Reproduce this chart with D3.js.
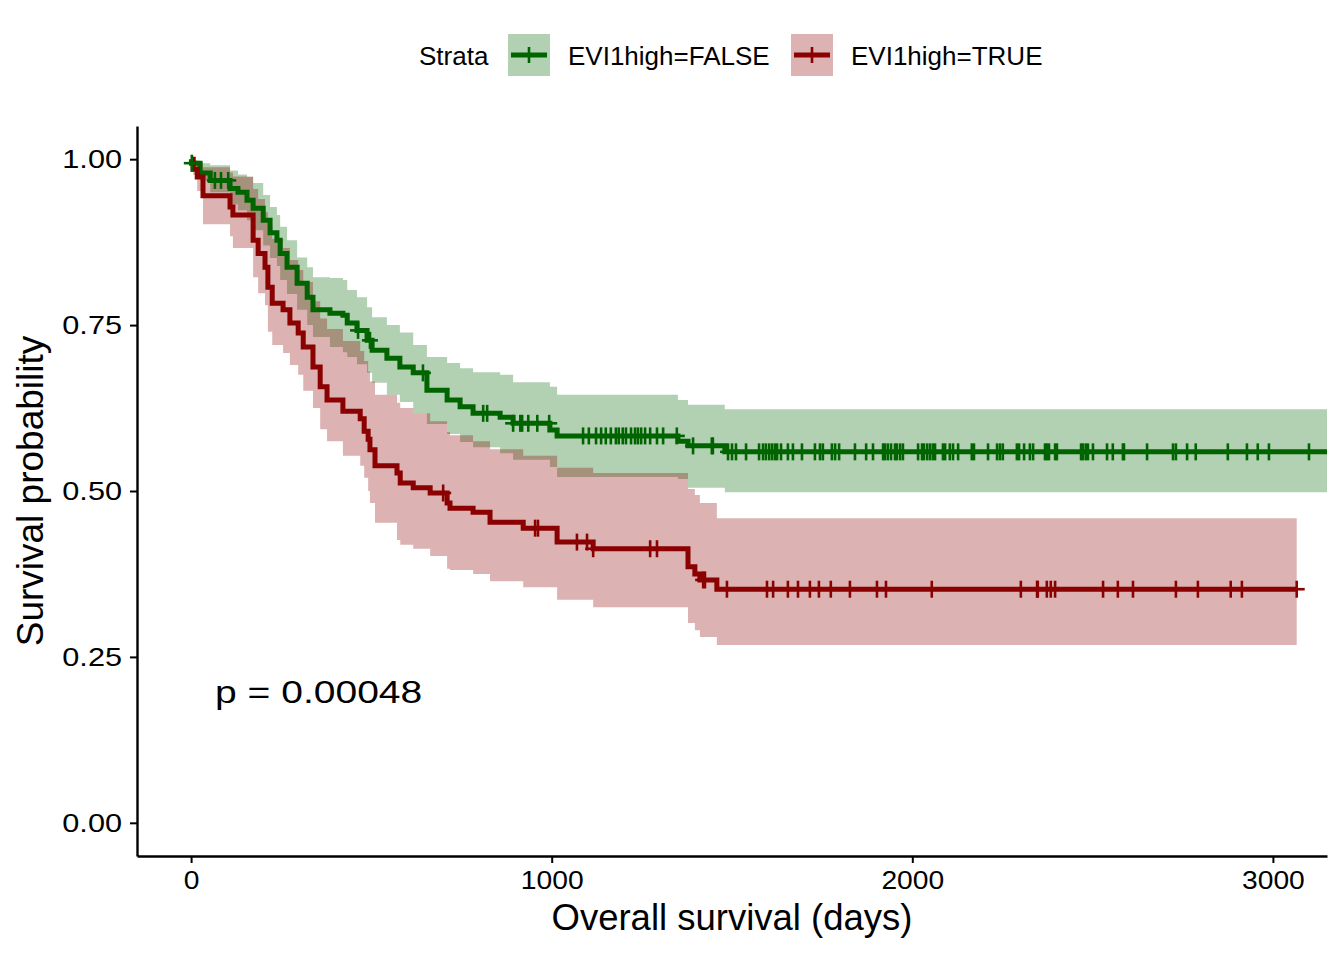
<!DOCTYPE html>
<html>
<head>
<meta charset="utf-8">
<script src="https://cdn.jsdelivr.net/npm/d3@7"></script>
<style>
  body { margin: 0; background: #fff; }
  text { font-family: "Liberation Sans", Arial, Helvetica, sans-serif; fill: #000; }
</style>
</head>
<body>
<div class="canvas"></div>
<script>
// strata and colours
const strata = ['EVI1high=FALSE', 'EVI1high=TRUE'];
const strataColors = ['#006400', '#8B0000'];

// EVI1high=FALSE : KM steps (days, survival, CI)
const falseTime  = [0, 1, 25, 53, 108, 130, 155, 172, 200, 219, 238, 247, 266, 294, 322, 338, 385, 421, 433, 460, 488, 502, 543, 579, 616, 654, 710, 746, 782, 857, 893, 995, 1015, 1350, 1378, 1480, 3200];
const falseSurv  = [1, 0.994, 0.979, 0.968, 0.956, 0.950, 0.938, 0.926, 0.908, 0.889, 0.878, 0.858, 0.837, 0.813, 0.792, 0.773, 0.768, 0.765, 0.753, 0.742, 0.727, 0.712, 0.700, 0.687, 0.678, 0.652, 0.637, 0.627, 0.617, 0.611, 0.602, 0.592, 0.583, 0.575, 0.568, 0.559, 0.559];
const falseUpper = [1, 0.998, 0.994, 0.991, 0.983, 0.977, 0.973, 0.964, 0.946, 0.928, 0.916, 0.898, 0.878, 0.852, 0.837, 0.822, 0.821, 0.818, 0.803, 0.792, 0.777, 0.762, 0.750, 0.739, 0.720, 0.702, 0.693, 0.685, 0.679, 0.675, 0.664, 0.657, 0.645, 0.637, 0.630, 0.623, 0.623];
const falseLower = [1, 0.989, 0.968, 0.950, 0.932, 0.923, 0.908, 0.893, 0.870, 0.851, 0.839, 0.818, 0.797, 0.773, 0.750, 0.732, 0.717, 0.709, 0.702, 0.691, 0.678, 0.663, 0.645, 0.634, 0.617, 0.601, 0.586, 0.574, 0.566, 0.557, 0.547, 0.536, 0.521, 0.518, 0.505, 0.498, 0.498];
const falseCensor = [2, 66, 83, 103, 463, 496, 643, 810, 821, 893, 913, 918, 935, 960, 993, 1087, 1103, 1123, 1137, 1150, 1164, 1178, 1186, 1197, 1206, 1220, 1231, 1239, 1248, 1259, 1273, 1292, 1309, 1347, 1392, 1444, 1447, 1489, 1500, 1511, 1539, 1575, 1586, 1594, 1603, 1611, 1619, 1625, 1636, 1655, 1669, 1694, 1730, 1744, 1752, 1777, 1786, 1797, 1841, 1872, 1891, 1919, 1924, 1932, 1941, 1952, 1957, 1966, 1974, 2016, 2027, 2032, 2041, 2049, 2057, 2063, 2085, 2091, 2104, 2113, 2127, 2165, 2171, 2210, 2235, 2243, 2251, 2290, 2296, 2310, 2326, 2335, 2368, 2373, 2379, 2396, 2401, 2468, 2473, 2481, 2487, 2501, 2540, 2556, 2584, 2587, 2651, 2723, 2731, 2762, 2786, 2875, 2928, 2958, 2989, 3100];

// EVI1high=TRUE
const trueTime  = [0, 6, 17, 33, 108, 116, 172, 186, 205, 213, 225, 255, 274, 297, 311, 338, 358, 377, 421, 469, 480, 491, 496, 510, 571, 580, 616, 663, 710, 718, 782, 829, 921, 1015, 1115, 1378, 1397, 1411, 1458, 3066];
const trueSurv  = [1, 0.985, 0.973, 0.945, 0.928, 0.916, 0.878, 0.858, 0.837, 0.807, 0.783, 0.773, 0.753, 0.738, 0.717, 0.687, 0.657, 0.637, 0.620, 0.609, 0.590, 0.578, 0.562, 0.538, 0.527, 0.512, 0.505, 0.497, 0.482, 0.474, 0.468, 0.453, 0.444, 0.423, 0.413, 0.386, 0.375, 0.366, 0.352, 0.352];
const trueUpper = [1, 0.998, 0.995, 0.988, 0.980, 0.974, 0.955, 0.940, 0.920, 0.900, 0.880, 0.866, 0.848, 0.833, 0.815, 0.786, 0.760, 0.744, 0.726, 0.711, 0.696, 0.680, 0.665, 0.645, 0.633, 0.625, 0.617, 0.605, 0.589, 0.584, 0.575, 0.563, 0.553, 0.535, 0.527, 0.503, 0.494, 0.482, 0.459, 0.459];
const trueLower = [1, 0.976, 0.952, 0.902, 0.884, 0.866, 0.822, 0.798, 0.780, 0.740, 0.720, 0.708, 0.690, 0.675, 0.651, 0.625, 0.593, 0.575, 0.553, 0.538, 0.520, 0.500, 0.482, 0.452, 0.426, 0.419, 0.413, 0.402, 0.383, 0.381, 0.375, 0.364, 0.355, 0.336, 0.325, 0.301, 0.290, 0.280, 0.268, 0.268];
const trueCensor = [699, 954, 962, 1070, 1098, 1115, 1273, 1292, 1420, 1425, 1486, 1597, 1614, 1655, 1683, 1716, 1741, 1774, 1827, 1902, 1927, 2054, 2301, 2346, 2348, 2373, 2384, 2396, 2529, 2570, 2612, 2731, 2792, 2883, 2914, 3066];

const xTicks = [0, 1000, 2000, 3000];
const yTicks = [0, 0.25, 0.5, 0.75, 1];
const pValueLabel = 'p = 0.00048';

// build one table per stratum
const groups = [
  { name: strata[0], color: strataColors[0], time: falseTime, surv: falseSurv, upper: falseUpper, lower: falseLower, censor: falseCensor },
  { name: strata[1], color: strataColors[1], time: trueTime, surv: trueSurv, upper: trueUpper, lower: trueLower, censor: trueCensor }
];
groups.forEach(g => {
  g.steps = g.time.map((t, i) => ({ t: t, s: g.surv[i], hi: g.upper[i], lo: g.lower[i] }));
});

const svg = d3.select('.canvas').append('svg')
    .attr('width', 1344)
    .attr('height', 960);

const plotLeft = 137, plotRight = 1327, plotTop = 126, plotBottom = 856;

const x = d3.scaleLinear().domain([-150, 3150]).range([plotLeft, plotRight]);
const y = d3.scaleLinear().domain([-0.05, 1.05]).range([plotBottom, plotTop]);

svg.append('defs').append('clipPath').attr('id', 'plotclip')
  .append('rect')
    .attr('x', plotLeft).attr('y', plotTop)
    .attr('width', plotRight - plotLeft).attr('height', plotBottom - plotTop);

const plot = svg.append('g').attr('clip-path', 'url(#plotclip)');

const band = d3.area()
    .curve(d3.curveStepAfter)
    .x(d => x(d.t))
    .y0(d => y(d.lo))
    .y1(d => y(d.hi));

const step = d3.line()
    .curve(d3.curveStepAfter)
    .x(d => x(d.t))
    .y(d => y(d.s));

// confidence bands
groups.forEach(g => {
  plot.append('path')
    .attr('d', band(g.steps))
    .attr('fill', g.color)
    .attr('fill-opacity', 0.3);
});

// survival curves
groups.forEach(g => {
  plot.append('path')
    .attr('d', step(g.steps))
    .attr('fill', 'none')
    .attr('stroke', g.color)
    .attr('stroke-width', 5);
});

// censor marks
const bis = d3.bisector(d => d.t).right;
groups.forEach(g => {
  const marks = plot.append('g');
  g.censor.forEach(c => {
    const i = Math.max(0, bis(g.steps, c) - 1);
    const cx = x(c), cy = y(g.steps[i].s);
    marks.append('line')
      .attr('x1', cx).attr('x2', cx)
      .attr('y1', cy - 8.5).attr('y2', cy + 8.5)
      .attr('stroke', g.color).attr('stroke-width', 2.6);
    marks.append('line')
      .attr('x1', cx - 8).attr('x2', cx + 8)
      .attr('y1', cy).attr('y2', cy)
      .attr('stroke', g.color).attr('stroke-width', 2.6);
  });
});

// axes
const yAxis = svg.append('g')
    .attr('transform', `translate(${plotLeft},0)`)
    .call(d3.axisLeft(y).tickValues(yTicks).tickFormat(d3.format('.2f')).tickSize(7).tickSizeOuter(0));
yAxis.select('.domain').attr('stroke-width', 2.4);
yAxis.selectAll('.tick line').attr('stroke-width', 2);
yAxis.selectAll('.tick text')
    .attr('font-size', 26)
    .attr('fill', '#000')
    .attr('x', -15 / 1.18)
    .attr('transform', 'scale(1.18,1)')
    .style('font-family', '"Liberation Sans", Arial, sans-serif');

const xAxis = svg.append('g')
    .attr('transform', `translate(0,${plotBottom})`)
    .call(d3.axisBottom(x).tickValues(xTicks).tickFormat(d3.format('d')).tickSize(7).tickSizeOuter(0));
xAxis.select('.domain').attr('stroke-width', 2.4);
xAxis.selectAll('.tick line').attr('stroke-width', 2);
xAxis.selectAll('.tick text')
    .attr('font-size', 25)
    .attr('fill', '#000')
    .attr('x', 0)
    .attr('y', 15)
    .attr('transform', 'scale(1.13,1)')
    .style('font-family', '"Liberation Sans", Arial, sans-serif');

// axis titles
svg.append('text')
    .attr('x', (plotLeft + plotRight) / 2)
    .attr('y', 930)
    .attr('text-anchor', 'middle')
    .attr('font-size', 36.5)
    .text('Overall survival (days)');

svg.append('text')
    .attr('transform', `translate(43,${(plotTop + plotBottom) / 2}) rotate(-90)`)
    .attr('text-anchor', 'middle')
    .attr('font-size', 37)
    .text('Survival probability');

// p-value
svg.append('text')
    .attr('transform', 'translate(215,703) scale(1.22,1)')
    .attr('font-size', 32)
    .text(pValueLabel);

// legend
const legend = svg.append('g');
legend.append('text')
    .attr('x', 419).attr('y', 65)
    .attr('font-size', 26)
    .text('Strata');

const keyX = [508, 791];
groups.forEach((g, i) => {
  const k = legend.append('g').attr('transform', `translate(${keyX[i]},34)`);
  k.append('rect')
    .attr('width', 42).attr('height', 42)
    .attr('fill', g.color).attr('fill-opacity', 0.3);
  k.append('line')
    .attr('x1', 3).attr('x2', 39).attr('y1', 21).attr('y2', 21)
    .attr('stroke', g.color).attr('stroke-width', 5);
  k.append('line')
    .attr('x1', 21).attr('x2', 21).attr('y1', 13).attr('y2', 29)
    .attr('stroke', g.color).attr('stroke-width', 2.6);
  legend.append('text')
    .attr('x', keyX[i] + 60).attr('y', 65)
    .attr('font-size', 26)
    .text(g.name);
});
</script>
</body>
</html>
